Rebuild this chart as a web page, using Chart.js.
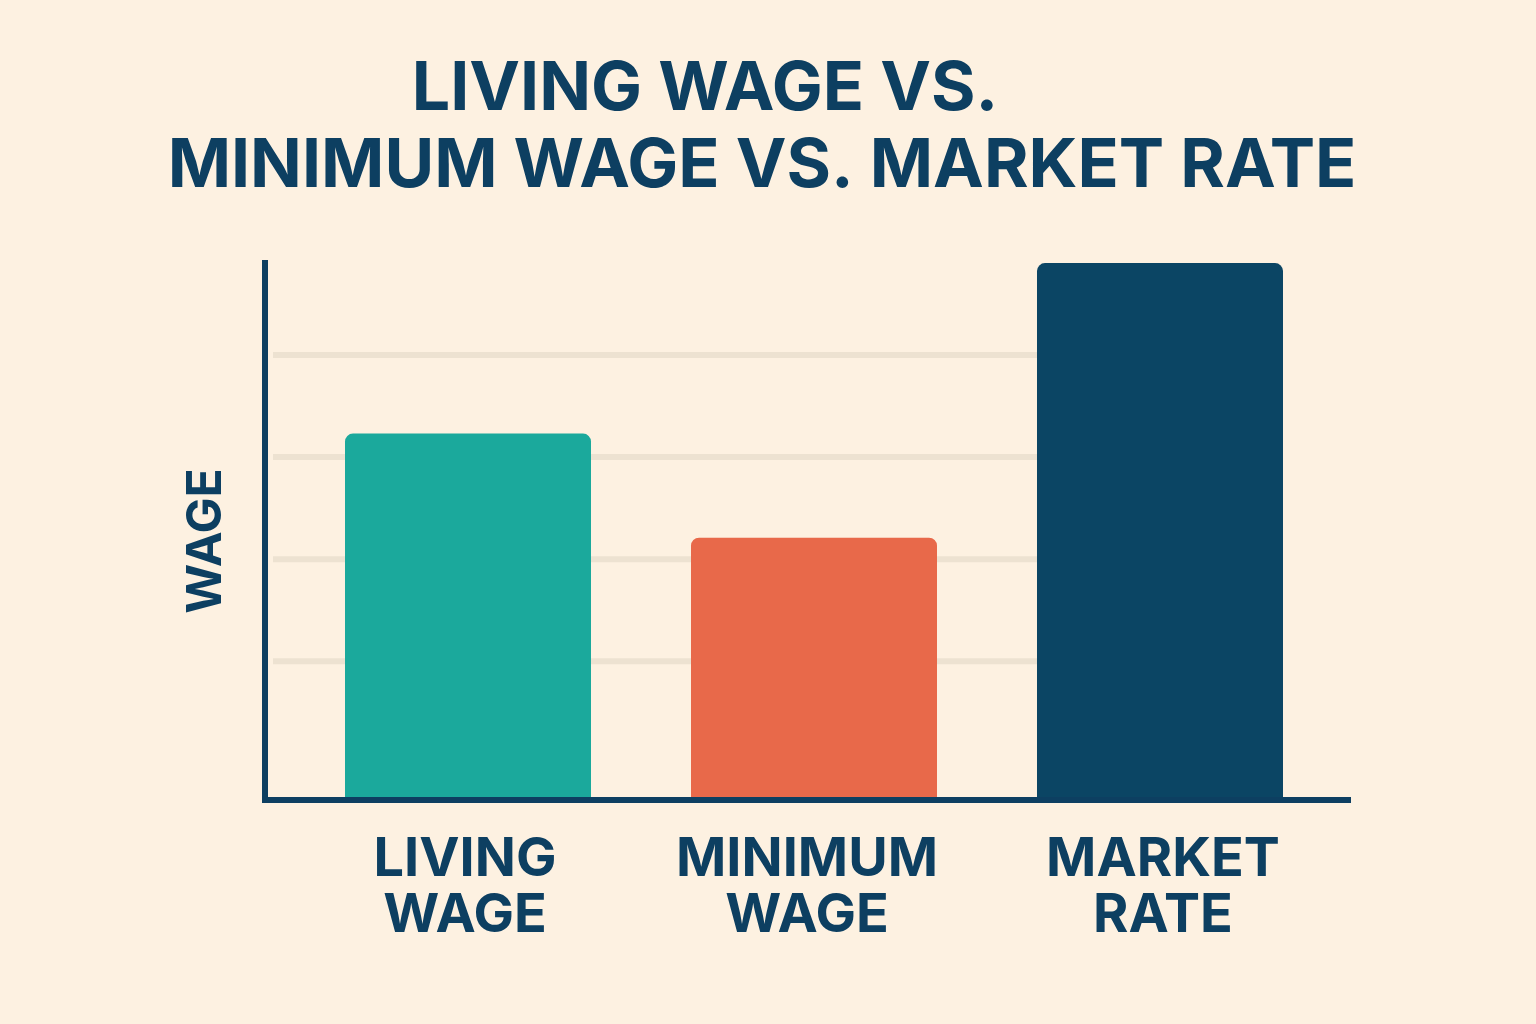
<!DOCTYPE html>
<html><head><meta charset="utf-8">
<script src="https://cdn.jsdelivr.net/npm/chart.js@4"></script>
<style>html,body{margin:0;padding:0;background:#fdf1e1;}canvas{display:block;}</style>
</head><body>
<div style="width:1536px;height:1024px;"><canvas id="c" width="1536" height="1024"></canvas></div>
<script>
const categories = [["LIVING","WAGE"],["MINIMUM","WAGE"],["MARKET","RATE"]];
const wageValues = [3.56, 2.54, 5.23];
const gridValues = [1.33, 2.33, 3.33, 4.33];
const yMax = 5.26;
const barColors = ["#1ba99c", "#e8694a", "#0b4564"];
const navy = "#0d3f61";

const deco = {
  id: 'deco',
  beforeDatasetsDraw(chart) {
    const ctx = chart.ctx, a = chart.chartArea, y = chart.scales.y;
    const meta = chart.getDatasetMeta(0);
    const endX = meta.data[2].x - meta.data[2].width/2;
    ctx.save();
    ctx.strokeStyle = "#ede2d1"; ctx.lineWidth = 6;
    gridValues.forEach(v => {
      const py = y.getPixelForValue(v);
      ctx.beginPath(); ctx.moveTo(a.left - 22, py); ctx.lineTo(endX, py); ctx.stroke();
    });
    ctx.restore();
  },
  afterDatasetsDraw(chart) {
    const ctx = chart.ctx, a = chart.chartArea, x = chart.scales.x;
    const axX = a.left - 30;
    ctx.save();
    ctx.strokeStyle = navy; ctx.lineWidth = 6;
    ctx.beginPath(); ctx.moveTo(axX, a.top); ctx.lineTo(axX, a.bottom + 3); ctx.lineTo(1351, a.bottom + 3); ctx.stroke();
    ctx.fillStyle = navy; ctx.textAlign = 'center'; ctx.textBaseline = 'middle';
    ctx.font = "bold 68px Inter, 'DejaVu Sans', sans-serif";
    ctx.fillText("LIVING WAGE VS.", 705, 90);
    ctx.fillText("MINIMUM WAGE VS. MARKET RATE", 762, 167);
    ctx.font = "bold 54px Inter, 'DejaVu Sans', sans-serif";
    categories.forEach((lab, i) => {
      const px = x.getPixelForValue(i) - 3 - (i === 1 ? 4 : 0) + (i === 2 ? 6 : 0);
      lab.forEach((t, j) => ctx.fillText(t, px, 860 + j * 56));
    });
    ctx.translate(207, 541); ctx.rotate(-Math.PI/2);
    ctx.font = "bold 48px Inter, 'DejaVu Sans', sans-serif";
    ctx.fillText("WAGE", 0, 0);
    ctx.restore();
  }
};

new Chart(document.getElementById('c'), {
  type: 'bar',
  data: { labels: categories.map(c => c.join(' ')), datasets: [{
    data: wageValues, backgroundColor: barColors,
    borderRadius: {topLeft: 8, topRight: 8}, borderSkipped: 'bottom',
    barPercentage: 0.711, categoryPercentage: 1
  }]},
  options: {
    responsive: false, animation: false,
    layout: { padding: { left: 295, right: 203, top: 260, bottom: 227 } },
    plugins: { legend: {display:false}, tooltip: {enabled:false}, title:{display:false} },
    scales: {
      x: { display: false },
      y: { display: false, min: 0, max: yMax }
    }
  },
  plugins: [deco]
});
</script>
</body></html>
